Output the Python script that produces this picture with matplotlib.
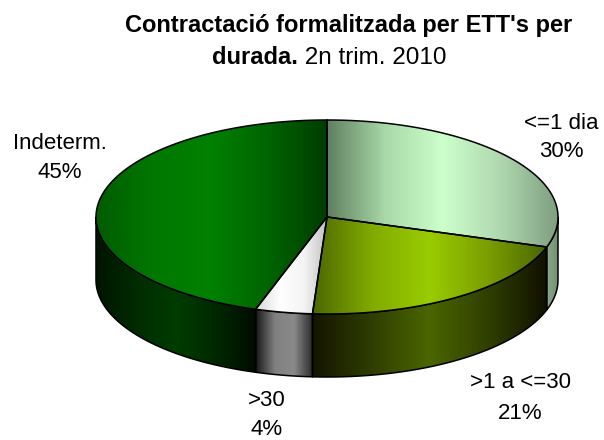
import numpy as np
import matplotlib
matplotlib.use("Agg")
import matplotlib.pyplot as plt
from matplotlib.patches import Polygon
from matplotlib.colors import LinearSegmentedColormap

plt.rcParams['font.family'] = ['Liberation Sans', 'DejaVu Sans']

# data
labels = ["<=1 dia", ">1 a <=30", ">30", "Indeterm."]
values = [30, 21, 4, 45]
# gradient stops (left -> right) for top and side faces
top_colors = [["#5f7f5f", "#a8d8a8", "#ccffcc", "#b0d8b0", "#7f9f7f"],
              ["#4a6600", "#80aa00", "#99cc00", "#7a9e00", "#4a6600"],
              ["#d8d8d8", "#ffffff", "#f4f4f4", "#c0c0c0"],
              ["#005c00", "#007800", "#008000", "#006400", "#003c00"]]
side_colors = [["#8aa68a", "#6f8f6f"],
               ["#141400", "#2e3d00", "#4a6600", "#303f00", "#101000"],
               ["#1a1a1a", "#808080", "#8a8a8a", "#2a2a2a"],
               ["#001400", "#002c00", "#003c00", "#002800", "#000c00"]]
# label centre x, baseline of first and second line
label_pos = [(561, 129, 157), (520, 388, 419), (267, 406, 435), (60, 149, 178)]

cx, cy, rx, ry, depth = 327, 217, 231, 97, 63

fig = plt.figure(figsize=(6.04, 4.40), dpi=100)
ax = fig.add_axes([0, 0, 1, 1])


def arc(t1, t2, dy=0, n=120):
    t = np.radians(np.linspace(t1, t2, n))
    return np.column_stack([cx + rx * np.cos(t), cy - ry * np.sin(t) + dy])


def face(verts, colors, z):
    poly = Polygon(verts, closed=True, fc='none', ec='black', lw=1.1, zorder=z + 0.5)
    ax.add_patch(poly)
    x0, x1 = verts[:, 0].min(), verts[:, 0].max()
    y0, y1 = verts[:, 1].min(), verts[:, 1].max()
    cmap = LinearSegmentedColormap.from_list('g', colors)
    im = ax.imshow(np.linspace(0, 1, 256)[None, :], cmap=cmap, aspect='auto',
                   extent=(x0, x1, y1, y0), zorder=z, interpolation='bilinear')
    im.set_clip_path(poly)


cum = 0
for i, v in enumerate(values):
    hi = 90 - cum * 3.6
    lo = 90 - (cum + v) * 3.6
    cum += v
    # visible outer wall (front half)
    s1, s2 = max(lo, -180), min(hi, 0)
    if s2 > s1:
        top = arc(s2, s1)
        bot = arc(s1, s2, depth)
        face(np.vstack([top, bot]), side_colors[i], 1)
    # top face
    verts = np.vstack([[cx, cy], arc(hi, lo)])
    face(verts, top_colors[i], 3)

for (x, y1, y2), lab, v in zip(label_pos, labels, values):
    ax.text(x, y1, lab, ha='center', va='baseline', fontsize=16, zorder=5)
    ax.text(x, y2, f"{v}%", ha='center', va='baseline', fontsize=16, zorder=5)

ax.text(349, 32, "Contractació formalitzada per ETT's per", ha='center', va='baseline',
        fontsize=17, fontweight='bold')
ax.text(298, 64, "durada.", ha='right', va='baseline', fontsize=17, fontweight='bold')
ax.text(298, 64, " 2n trim. 2010", ha='left', va='baseline', fontsize=17.5)

ax.set_xlim(0, 604)
ax.set_ylim(440, 0)
ax.axis('off')
fig.savefig("out.png", dpi=100)
